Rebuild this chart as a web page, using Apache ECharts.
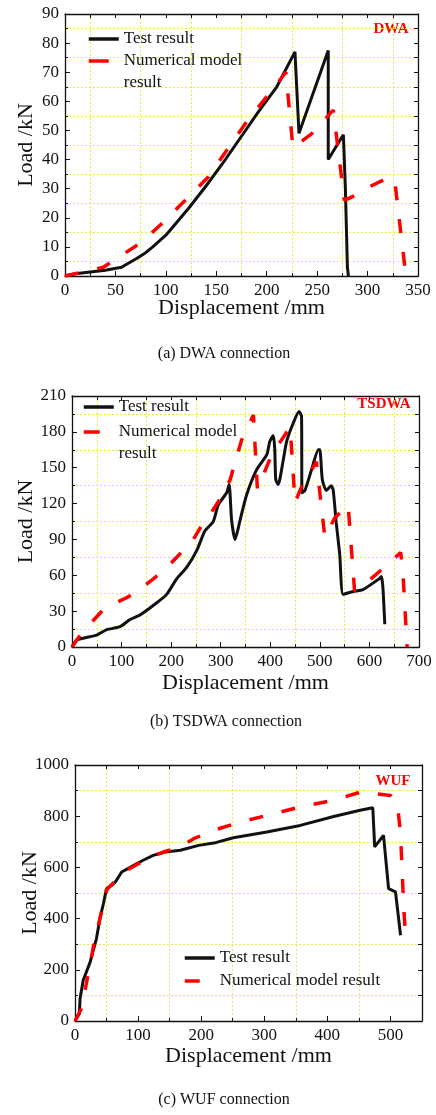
<!DOCTYPE html>
<html>
<head>
<meta charset="utf-8">
<script src="https://cdn.jsdelivr.net/npm/echarts@6/dist/echarts.min.js"></script>
<style>
  html, body { margin: 0; padding: 0; background: #fff; }
  #chart { width: 436px; height: 1115px; }
</style>
</head>
<body>
<div id="chart"></div>
<script>
// (a) DWA connection: [displacement mm, load kN]
const dwaTest = [[0,0],[10,0.8],[25,1.4],[40,2],[56,3],[71,6],[80,8],[87,10],[100,14],[122,23],[140,31],[157,39],[175,48],[191,56],[210,65],[228,77],[232,49],[261,77.5],[261,40],[276,48.5],[278,30],[280,3],[281,0]];
const dwaModel = [[0,0],[38,3],[71,10.5],[86,14.8],[99,19],[122,27],[142,34],[162,44],[180,53],[201,62],[219,70],[226,44],[245,49],[266,57],[277,26],[293,28.5],[304,31],[322,34],[327,32.5],[338,0]];

// (b) TSDWA connection
const tsdwaTest = [[0,0],[10,6],[50,10],[70,14.5],[97,17],[117,23],[138,27],[171,37],[191,44],[211,57],[232,67],[252,81],[268,97],[285,105],[295,119],[312,129],[317,136],[322,106],[329,90],[339,106],[352,127],[372,148],[393,161],[399,172],[406,177],[409,166],[411,140],[416,136],[426,156],[433,172],[446,187],[458,197],[463,193],[464,129],[470,131],[483,148],[497,165],[500,165],[505,140],[513,131],[523,135],[527,131],[533,104],[540,78],[547,44],[567,46.5],[587,48],[621,57.5],[624,59],[627,51],[631,19]];
const tsdwaModel = [[0,0],[20,12],[67,33],[104,40],[127,45],[161,56],[188,65],[218,78],[242,88],[262,102],[285,115],[302,126],[319,140],[342,173],[366,194],[374,132],[403,161],[440,184],[450,121],[463,134],[493,155],[510,92],[530,108],[557,119],[570,47],[600,56],[634,68],[663,79],[667,67],[676,0]];

// (c) WUF connection
const wufTest = [[0,0],[7,29],[8,87],[13,159],[24,230],[34,322],[40,406],[45,458],[50,517],[58,530],[64,543],[74,582],[93,608],[108,628],[124,647],[143,660],[167,667],[196,686],[220,695],[251,716],[304,738],[357,764],[410,799],[452,823],[472,833],[475,680],[489,725],[497,517],[508,504],[516,335]];
const wufModel = [[0,0],[10,48],[18,146],[29,289],[40,406],[50,512],[77,582],[119,640],[140,660],[167,680],[188,712],[220,745],[262,777],[304,803],[357,836],[410,862],[452,894],[474,888],[500,881],[511,849],[516,732],[521,445],[524,328]];

const captions = ['(a) DWA connection', '(b) TSDWA connection', '(c) WUF connection'];
const tags = ['DWA', 'TSDWA', 'WUF'];
const TEST = 'Test result';
const MODEL = 'Numerical model result';

const FONT = '"Liberation Serif", "Times New Roman", serif';
const INK = '#111';
const RED = '#ff0000';
const YELLOW = '#ecec3c';

const panels = [
  { grid: { left: 65, top: 14, width: 353, height: 262 }, xMax: 350, xStep: 50, yMax: 90, yStep: 10,
    xGap: 21, yGap: 28, test: dwaTest, model: dwaModel, smooth: false,
    legend: { left: 87, top: 28, gap: -22, twoLines: true, dash: [20, 10] },
    caption: [224, 354], tag: [391, 29] },
  { grid: { left: 72, top: 396, width: 347, height: 251 }, xMax: 700, xStep: 100, yMax: 210, yStep: 30,
    xGap: 25, yGap: 35, test: tsdwaTest, model: tsdwaModel, smooth: 0.2,
    legend: { left: 82, top: 396, gap: -19, twoLines: true, dash: [16, 14] },
    caption: [226, 722], tag: [384, 404] },
  { grid: { left: 75, top: 765, width: 347, height: 256 }, xMax: 550, xStep: 100, yMax: 1000, yStep: 200,
    xGap: 24, yGap: 34, test: wufTest, model: wufModel, smooth: false,
    legend: { left: 183, top: 947, gap: 1, twoLines: false, dash: [15, 15] },
    caption: [224, 1100], tag: [393, 781] }
];

const axisLine = { onZero: false, lineStyle: { color: INK, width: 1.3 } };
const label = { fontFamily: FONT, fontSize: 17, color: INK, margin: 6, formatter: (v) => String(v) };
const nameStyle = { fontFamily: FONT, fontSize: 22, color: INK };
const gridLine = { show: true, lineStyle: { color: ['rgba(0,0,0,0)', YELLOW], type: [2, 2], width: 1 } };

const grid = [], xAxis = [], yAxis = [], series = [], legend = [], graphic = [];

panels.forEach((p, i) => {
  grid.push(p.grid);
  // bottom + left: labelled axes
  xAxis.push({
    gridIndex: i, type: 'value', position: 'bottom', min: 0, max: p.xMax, interval: p.xStep,
    axisLine, axisTick: { inside: true, length: 5 }, minorTick: { show: true, splitNumber: 2, length: 3 },
    axisLabel: Object.assign({ showMaxLabel: p.xMax % p.xStep === 0 }, label),
    splitLine: { show: false },
    name: 'Displacement /mm', nameLocation: 'middle', nameGap: p.xGap, nameTextStyle: nameStyle,
    nameMoveOverlap: false
  });
  yAxis.push({
    gridIndex: i, type: 'value', position: 'left', min: 0, max: p.yMax, interval: p.yStep,
    axisLine, axisTick: { inside: true, length: 5 }, minorTick: { show: true, splitNumber: 2, length: 3 },
    axisLabel: label, splitLine: { show: false },
    name: 'Load /kN', nameLocation: 'middle', nameGap: p.yGap, nameTextStyle: nameStyle,
    nameMoveOverlap: false
  });
  // top + right: frame, ticks and dotted grid at half steps
  xAxis.push({
    gridIndex: i, type: 'value', position: 'top', min: 0, max: p.xMax, interval: p.xStep / 2,
    axisLine, axisTick: { inside: true, length: 4 }, axisLabel: { show: false }, splitLine: gridLine
  });
  yAxis.push({
    gridIndex: i, type: 'value', position: 'right', min: 0, max: p.yMax, interval: p.yStep / 2,
    axisLine, axisTick: { inside: true, length: 4 }, axisLabel: { show: false }, splitLine: gridLine
  });

  series.push({
    name: TEST, type: 'line', xAxisIndex: 2 * i, yAxisIndex: 2 * i, data: p.test,
    symbol: 'none', smooth: p.smooth, lineStyle: { color: INK, width: 3 }, itemStyle: { color: INK }
  });
  series.push({
    name: MODEL, type: 'line', xAxisIndex: 2 * i, yAxisIndex: 2 * i, data: p.model,
    symbol: 'none', lineStyle: { color: RED, width: 3.5, type: [14, 19] }, itemStyle: { color: RED }
  });

  legend.push({
    orient: 'vertical', left: p.legend.left, top: p.legend.top, padding: 0,
    itemGap: p.legend.gap, itemWidth: 30, itemHeight: 14, selectedMode: false,
    itemStyle: { opacity: 0 },
    lineStyle: { width: 3.5 },
    textStyle: { fontFamily: FONT, fontSize: 17, color: INK, lineHeight: 22 },
    data: [TEST, { name: MODEL, lineStyle: { width: 3.5, type: p.legend.dash } }],
    // blank first line keeps "Numerical model" level with its icon
    formatter: (n) => (p.legend.twoLines && n === MODEL ? ' \nNumerical model\nresult' : n)
  });

  graphic.push({
    type: 'text', x: p.caption[0], y: p.caption[1],
    style: { text: captions[i], font: '16px ' + FONT, fill: INK, align: 'center', verticalAlign: 'middle' }
  });
  graphic.push({
    type: 'text', x: p.tag[0], y: p.tag[1],
    style: { text: tags[i], font: 'bold 15px ' + FONT, fill: RED, align: 'center', verticalAlign: 'middle' }
  });
});

const chart = echarts.init(document.getElementById('chart'));
chart.setOption({
  animation: false,
  backgroundColor: '#fff',
  grid, xAxis, yAxis, series, legend, graphic
});
</script>
</body>
</html>
